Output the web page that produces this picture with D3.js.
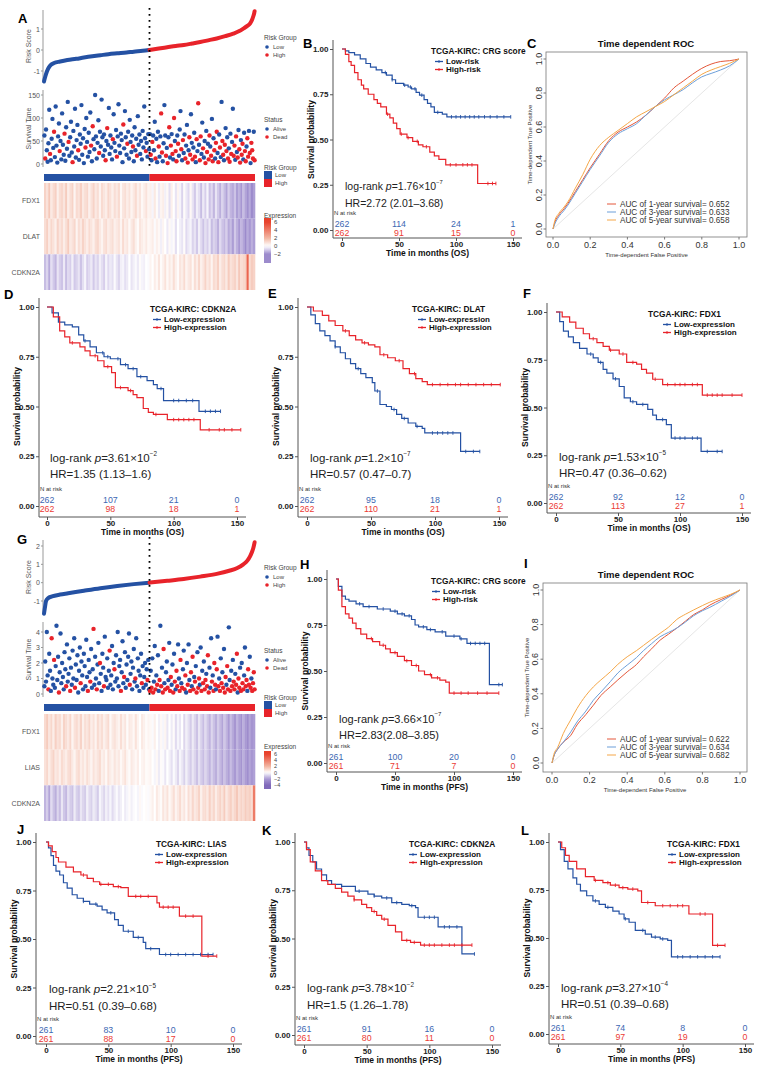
<!DOCTYPE html>
<html><head><meta charset="utf-8">
<script src="https://cdn.jsdelivr.net/npm/d3@7"></script>
<style>body{margin:0;background:#fff}</style>
</head><body>
<svg id="chart" width="764" height="1072" style="font-family:'Liberation Sans',Arial,sans-serif"></svg>
<script>
// ---------------- DATA ----------------
const kmTicksY=[0,0.25,0.5,0.75,1];
const kmTicksX=[0,50,100,150];
const rocTicks=[0,0.2,0.4,0.6,0.8,1];

// Risk score (rank, score)
const riskA_low=[[0,-1.5],[2,-1.35],[5,-1.15],[10,-0.9],[15,-0.75],[25,-0.62],[40,-0.55],[58,-0.48],[80,-0.42],[99,-0.36],[120,-0.3],[140,-0.25],[160,-0.2],[182,-0.16],[205,-0.12],[223,-0.08],[245,-0.04],[261,0]];
const riskA_high=[[262,0],[285,0.07],[306,0.13],[327,0.19],[347,0.24],[368,0.31],[388,0.38],[410,0.47],[429,0.55],[450,0.66],[470,0.78],[485,0.9],[495,1.02],[505,1.15],[512,1.27],[517,1.45],[520,1.62],[522,1.75],[523,1.85]];
const riskG_low=[[0,-1.7],[2,-1.4],[5,-1.0],[10,-0.85],[20,-0.75],[40,-0.65],[60,-0.58],[99,-0.44],[140,-0.3],[182,-0.18],[223,-0.08],[261,0]];
const riskG_high=[[262,0],[306,0.1],[347,0.2],[388,0.33],[429,0.48],[460,0.65],[480,0.8],[495,1.0],[505,1.2],[512,1.45],[517,1.7],[520,1.9],[523,2.2]];

// Survival time scatter [time, dead]
const survA_low=[[62,0],[12,1],[75,0],[30,0],[5,0],[45,0],[118,0],[22,1],[8,0],[55,0],[98,0],[35,0],[70,1],[15,0],[125,0],[40,0],[3,0],[60,0],[88,0],[28,1],[50,0],[10,0],[110,0],[42,0],[20,0],[66,1],[7,0],[80,0],[33,0],[135,0],[48,1],[18,0],[58,0],[92,0],[25,0],[4,1],[72,0],[38,0],[120,0],[14,0],[52,0],[85,0],[30,1],[9,0],[64,0],[44,0],[128,0],[20,0],[56,0],[2,0],[76,0],[36,1],[100,0],[48,0],[16,0],[68,0],[26,0],[112,0],[40,1],[6,0],[82,1],[54,0],[32,0],[150,0],[60,0],[12,0],[46,0],[95,0],[24,1],[70,0],[38,0],[140,0],[58,0],[18,0],[64,0],[30,0],[8,1],[50,0],[78,1],[42,0],[122,0],[22,0],[62,0],[36,0],[10,0],[54,1],[108,0],[46,0],[28,0],[74,0],[16,1],[60,0],[130,0],[40,0],[24,0],[66,0],[52,0],[4,0],[86,1],[34,0],[115,0],[58,0],[20,0],[44,1],[70,0],[12,0],[96,0],[48,0],[26,0],[62,0],[38,1],[6,0],[80,0],[30,0],[55,0],[18,1],[104,0],[42,0],[64,0],[22,0],[50,0],[10,0],[72,0],[36,0],[125,0],[56,0],[28,1],[46,0],[16,0],[65,0],[32,0]];
const survA_high=[[65,0],[20,1],[8,0],[48,1],[62,0],[30,0],[92,0],[12,1],[55,0],[4,0],[70,0],[38,1],[16,0],[60,0],[110,1],[25,1],[6,0],[45,0],[128,0],[62,0],[18,1],[35,0],[2,1],[58,0],[80,1],[14,0],[40,1],[65,0],[22,1],[10,0],[100,1],[50,0],[28,1],[6,1],[62,0],[44,1],[18,0],[75,0],[115,0],[32,1],[8,0],[52,1],[24,0],[64,0],[12,1],[40,0],[85,0],[3,1],[30,0],[58,1],[20,1],[108,0],[46,0],[10,1],[36,0],[68,0],[16,1],[4,0],[54,1],[28,0],[132,1],[42,0],[8,1],[60,1],[22,0],[90,0],[34,1],[14,0],[50,0],[2,1],[72,0],[26,1],[44,0],[10,1],[62,1],[38,0],[18,1],[98,0],[6,1],[56,0],[30,1],[12,0],[46,1],[70,1],[24,0],[4,1],[64,0],[36,1],[15,0],[135,0],[50,1],[20,1],[8,0],[42,1],[78,0],[28,1],[58,0],[12,1],[34,0],[5,1],[66,0],[22,1],[48,0],[120,0],[18,1],[40,1],[9,0],[60,1],[26,0],[14,1],[74,0],[32,1],[3,1],[52,0],[20,1],[44,1],[10,0],[68,0],[28,1],[6,1],[38,0],[56,1],[16,1],[72,0],[24,1],[2,0],[46,1],[30,1],[12,1],[70,0],[8,1]];
const survG_low=[[0.5,0],[2.1,0],[0.8,0],[4.0,0],[1.2,0],[0.3,1],[2.6,0],[1.5,0],[0.2,0],[3.6,1],[1.0,0],[0.6,0],[2.2,1],[0.4,0],[1.8,0],[4.4,0],[0.9,0],[2.4,0],[0.1,1],[1.4,0],[3.9,0],[0.7,0],[2.0,0],[1.1,0],[0.3,0],[2.7,0],[1.6,0],[0.5,1],[3.2,0],[0.8,0],[1.3,0],[2.3,0],[0.2,1],[1.7,0],[0.6,0],[2.8,0],[1.0,0],[3.6,0],[0.4,1],[1.9,0],[0.9,0],[2.5,0],[0.1,0],[1.5,0],[3.0,0],[0.7,1],[2.1,0],[1.2,0],[0.3,0],[2.6,0],[1.8,0],[0.5,0],[3.5,0],[1.1,0],[0.2,1],[2.2,0],[1.4,0],[0.8,1],[2.9,0],[0.4,0],[1.6,0],[4.2,1],[0.6,0],[2.4,0],[1.0,0],[0.3,1],[1.9,0],[3.3,0],[0.7,0],[2.0,1],[1.3,0],[0.2,0],[2.6,0],[1.7,0],[0.5,1],[3.7,0],[1.1,0],[0.9,0],[2.3,0],[0.4,0],[1.5,0],[2.8,1],[0.6,0],[1.2,0],[3.1,0],[0.3,0],[2.0,0],[1.6,1],[0.8,0],[2.5,0],[1.0,0],[4.0,0],[0.5,0],[1.8,0],[2.2,0],[0.2,1],[1.4,0],[3.4,0],[0.7,0],[1.1,1],[2.7,0],[0.4,0],[1.9,0],[0.9,0],[2.4,0],[3.9,0],[0.6,1],[1.3,0],[2.1,0],[0.3,0],[1.7,0],[2.9,0],[0.8,0],[1.0,1],[3.6,0],[0.5,0],[2.3,0],[1.5,0],[0.2,0],[1.2,0],[2.6,0],[0.7,1],[1.8,0],[0.4,0],[1.1,0],[2.0,0],[0.6,0],[1.6,0],[0.9,1],[2.2,0],[0.3,0]];
const survG_high=[[0.2,1],[1.5,0],[0.4,1],[2.3,0],[0.1,1],[0.8,0],[3.1,0],[0.3,1],[1.2,0],[0.6,1],[2.5,0],[0.2,0],[0.9,1],[4.4,0],[0.5,1],[1.7,0],[0.1,1],[2.9,1],[0.7,0],[0.3,1],[1.4,0],[2.1,0],[0.4,1],[0.9,0],[3.3,0],[0.2,1],[1.1,1],[0.6,0],[1.9,0],[0.1,1],[2.6,0],[0.8,1],[0.3,0],[1.5,1],[0.5,1],[3.2,0],[1.0,0],[0.2,1],[2.2,1],[0.7,0],[0.4,1],[1.6,0],[2.8,0],[0.3,1],[1.2,1],[0.1,0],[2.0,0],[0.6,1],[3.2,0],[0.9,0],[0.2,1],[1.4,1],[0.5,0],[2.4,1],[0.3,1],[1.1,0],[0.8,1],[1.8,0],[0.1,1],[2.7,0],[0.4,1],[1.0,1],[0.6,0],[3.0,0],[0.2,1],[1.5,0],[0.7,1],[2.1,0],[0.3,1],[0.9,1],[1.3,0],[0.5,1],[2.5,1],[0.1,1],[1.7,0],[0.4,0],[3.6,0],[0.8,1],[1.2,0],[0.2,1],[2.0,1],[0.6,1],[0.3,0],[1.6,1],[3.7,0],[0.5,1],[1.0,0],[0.2,1],[2.3,0],[0.7,1],[1.4,0],[0.4,1],[2.9,0],[0.1,1],[1.1,1],[0.6,0],[1.8,1],[0.3,1],[4.3,0],[0.9,0],[0.2,1],[1.5,0],[0.5,1],[2.2,0],[0.8,1],[0.3,1],[1.3,0],[0.6,1],[2.6,1],[0.1,0],[1.0,1],[0.4,1],[1.7,0],[0.2,1],[2.0,0],[0.7,1],[0.3,1],[1.2,0],[3.0,0],[0.5,1],[0.9,1],[0.2,0],[1.6,1],[0.6,1],[2.4,0],[0.4,1],[1.0,0],[0.2,1],[0.7,1],[1.4,1],[0.3,1]];

// Heatmap expression (100 columns ordered by risk)
const heatA_genes=['FDX1','DLAT','CDKN2A'];
const heatA_FDX1=[1.2,0.8,1.5,0.6,1.0,1.3,0.4,0.9,1.1,0.7,1.4,0.5,0.9,1.2,0.3,1.0,0.8,1.3,0.6,0.9,1.1,0.4,0.8,1.2,0.6,0.9,0.3,1.0,0.7,0.5,1.1,0.8,0.4,0.9,0.6,1.0,0.2,0.7,0.9,0.5,0.8,0.3,0.6,1.0,0.4,0.7,0.2,0.5,0.8,0.3,0.4,-0.2,0.6,0.1,-0.4,0.3,0.5,-0.3,0.2,-0.6,0.4,0.0,-0.5,0.3,-0.2,-0.8,0.1,-0.4,-0.7,0.2,-0.5,-1.0,-0.3,-0.6,-1.2,-0.4,-0.9,-0.2,-1.1,-0.7,-1.3,-0.5,-1.0,-1.4,-0.8,-1.2,-1.6,-0.9,-1.3,-1.5,-1.1,-1.7,-1.4,-1.8,-1.2,-1.6,-1.9,-1.5,-2.0,-1.7];
const heatA_DLAT=[0.9,1.3,0.6,1.1,0.8,0.4,1.2,0.7,1.0,0.5,0.9,1.4,0.6,0.8,1.1,0.3,0.9,0.6,1.2,0.8,0.5,1.0,0.7,0.4,0.9,1.1,0.6,0.3,0.8,1.0,0.5,0.7,0.9,0.4,0.6,0.8,0.3,1.0,0.5,0.7,0.2,0.6,0.9,0.4,0.1,0.7,0.5,0.3,0.6,0.2,0.3,0.5,-0.1,0.4,0.2,-0.3,0.3,0.0,-0.4,0.2,-0.2,0.1,-0.6,0.0,-0.3,-0.5,0.1,-0.7,-0.4,-0.2,-0.8,-0.5,-1.0,-0.3,-0.7,-1.1,-0.6,-0.9,-0.4,-1.2,-0.8,-1.0,-1.4,-0.7,-1.1,-1.3,-0.9,-1.5,-1.2,-1.7,-1.0,-1.4,-1.8,-1.3,-1.6,-2.0,-1.5,-1.8,-1.4,-1.7];
const heatA_CDKN2A=[-1.2,-0.8,-1.5,-0.6,-1.0,-1.3,-0.5,-0.9,-1.1,-0.4,-1.2,-0.7,-0.9,-0.3,-1.0,-0.8,-0.5,-1.1,-0.6,-0.2,-0.9,-0.7,-0.4,-1.0,-0.5,-0.8,-0.3,-0.6,-0.9,-0.2,-0.7,-0.4,-0.6,-0.1,-0.5,-0.8,-0.3,-0.2,-0.6,-0.4,0.0,-0.5,-0.3,-0.1,-0.4,0.1,-0.2,-0.3,0.0,-0.1,0.3,0.0,0.5,0.2,0.7,0.1,0.4,0.8,0.2,0.6,0.3,0.9,0.4,0.1,0.7,0.5,1.0,0.3,0.6,0.8,0.2,0.9,0.5,1.1,0.4,0.7,1.2,0.6,0.9,0.3,1.0,0.8,1.3,0.5,0.9,1.1,0.6,1.4,0.8,1.0,1.2,0.7,1.5,0.9,1.1,1.3,4.8,1.0,1.4,1.2];
const heatG_genes=['FDX1','LIAS','CDKN2A'];
const heatG_FDX1=[1.0,1.4,0.7,1.1,0.5,1.3,0.8,1.0,0.4,1.2,0.9,0.6,1.1,0.3,0.8,1.0,0.6,1.2,0.4,0.9,0.7,1.1,0.5,0.8,0.3,1.0,0.6,0.9,0.4,0.7,1.0,0.2,0.6,0.8,0.5,0.3,0.9,0.4,0.7,0.1,0.6,0.5,0.2,0.8,0.3,0.0,0.6,0.4,0.1,0.3,0.2,-0.1,0.4,0.0,-0.3,0.2,-0.2,0.3,-0.5,0.0,-0.4,0.1,-0.7,-0.2,-0.5,0.0,-0.8,-0.3,-0.6,-1.0,-0.4,-0.8,-1.2,-0.5,-0.9,-1.3,-0.7,-1.1,-1.5,-0.8,-1.2,-1.6,-1.0,-1.4,-1.8,-1.1,-1.5,-2.0,-1.3,-1.7,-2.2,-1.5,-1.9,-2.4,-1.6,-2.1,-2.6,-1.8,-2.3,-2.0];
const heatG_LIAS=[0.8,1.1,0.5,0.9,1.2,0.6,0.8,0.4,1.0,0.7,0.5,0.9,1.1,0.6,0.3,0.8,1.0,0.5,0.7,0.4,0.9,0.6,0.3,0.8,0.5,0.7,1.0,0.4,0.6,0.2,0.8,0.5,0.3,0.7,0.4,0.6,0.2,0.5,0.8,0.3,0.1,0.6,0.4,0.2,0.5,0.0,0.3,0.4,0.1,0.2,0.3,0.0,-0.2,0.2,-0.4,0.1,-0.1,-0.5,0.0,-0.3,-0.6,-0.1,-0.4,-0.8,-0.2,-0.5,-0.9,-0.3,-0.7,-1.0,-0.5,-0.8,-1.2,-0.6,-1.0,-1.3,-0.8,-1.1,-1.5,-0.9,-1.3,-1.6,-1.0,-1.4,-1.8,-1.2,-1.6,-1.9,-1.3,-1.7,-2.1,-1.5,-1.9,-2.3,-1.6,-2.0,-2.5,-1.8,-2.2,-1.9];
const heatG_CDKN2A=[-1.5,-1.0,-1.8,-0.7,-1.2,-1.6,-0.8,-1.3,-0.5,-1.1,-1.4,-0.6,-1.0,-1.2,-0.4,-0.9,-1.1,-0.5,-0.8,-1.0,-0.3,-0.7,-0.9,-0.4,-0.6,-1.0,-0.2,-0.5,-0.8,-0.3,-0.6,-0.2,-0.7,-0.4,-0.1,-0.5,-0.3,0.0,-0.4,-0.2,0.1,-0.3,-0.1,0.0,-0.2,0.2,-0.1,0.0,0.1,-0.1,0.2,0.4,0.0,0.6,0.3,0.1,0.7,0.4,0.8,0.2,0.5,0.9,0.3,0.6,1.0,0.4,0.7,0.2,0.9,0.5,1.1,0.6,0.8,1.2,0.4,0.9,1.0,0.6,1.3,0.7,1.1,0.5,0.9,1.2,0.8,1.4,0.6,1.0,1.3,0.8,1.1,1.5,0.9,1.2,1.0,1.4,1.1,1.3,0.9,4.0];
const exprTicksA=[6,4,2,0,-2];
const exprTicksG=[6,4,2,0,-2,-4];

// Kaplan-Meier curves [months, survival]
const B_low=[[0,1],[3,0.99],[6,0.98],[11,0.967],[16,0.945],[21,0.92],[25,0.9],[30,0.885],[35,0.87],[39,0.856],[44,0.83],[47,0.81],[54,0.8],[58,0.79],[61,0.78],[65,0.76],[68,0.745],[72,0.72],[75,0.7],[78,0.68],[81,0.65],[88,0.64],[92,0.625],[148,0.625]];
const B_high=[[0,1],[3,0.97],[6,0.93],[8,0.91],[11,0.87],[14,0.83],[17,0.8],[19,0.78],[23,0.75],[28,0.72],[31,0.7],[34,0.68],[39,0.64],[42,0.62],[45,0.59],[48,0.56],[51,0.53],[57,0.51],[62,0.49],[67,0.47],[71,0.46],[77,0.43],[81,0.41],[85,0.39],[91,0.36],[119,0.257],[135,0.257]];
const D_low=[[0,1],[4,0.97],[9,0.924],[14,0.91],[20,0.9],[25,0.86],[29,0.83],[34,0.8],[39,0.77],[45,0.75],[50,0.74],[58,0.71],[64,0.69],[71,0.65],[79,0.63],[84,0.61],[87,0.59],[92,0.53],[120,0.476],[137,0.476]];
const D_high=[[0,1],[5,0.95],[10,0.88],[14,0.85],[18,0.82],[26,0.8],[30,0.78],[34,0.755],[40,0.73],[45,0.7],[51,0.67],[54,0.595],[64,0.58],[68,0.56],[71,0.545],[76,0.49],[80,0.47],[84,0.46],[95,0.434],[121,0.383],[153,0.383]];
const E_low=[[0,1],[3,0.96],[6.5,0.916],[10,0.88],[14,0.856],[18,0.83],[22,0.8],[26,0.77],[30,0.74],[34,0.715],[38,0.69],[42,0.665],[46,0.645],[51,0.62],[53,0.578],[57,0.51],[62,0.5],[66,0.485],[70,0.46],[74,0.44],[79,0.417],[85,0.4],[90,0.39],[92,0.367],[120,0.274],[135,0.274]];
const E_high=[[0,1],[5,0.98],[12,0.958],[17,0.93],[22,0.907],[28,0.88],[33,0.856],[38,0.835],[43,0.82],[48,0.81],[53,0.8],[57,0.76],[63,0.745],[69,0.73],[75,0.69],[80,0.665],[85,0.64],[90,0.625],[94,0.61],[151,0.61]];
const F_low=[[0,1],[3,0.95],[6,0.9],[10,0.87],[14,0.84],[19,0.81],[25,0.78],[30,0.76],[34,0.736],[38,0.7],[41,0.68],[46,0.65],[51,0.61],[55,0.55],[60,0.53],[65,0.516],[74,0.49],[78,0.46],[81,0.437],[89,0.41],[93,0.34],[117,0.27],[134,0.27]];
const F_high=[[0,1],[5,0.975],[11,0.947],[16,0.915],[22,0.886],[27,0.86],[33,0.84],[38,0.82],[43,0.8],[51,0.78],[57,0.736],[65,0.727],[69,0.7],[73,0.68],[78,0.648],[86,0.62],[118,0.565],[150,0.565]];
const H_low=[[0,1],[2,0.96],[5,0.907],[8,0.89],[11,0.88],[17,0.865],[23,0.85],[35,0.837],[46,0.825],[52,0.81],[58,0.8],[64,0.78],[67,0.75],[70,0.74],[77,0.725],[84,0.713],[93,0.69],[105,0.675],[111,0.65],[130,0.426],[141,0.426]];
const H_high=[[0,1],[2,0.94],[5,0.85],[8,0.81],[11,0.787],[14,0.76],[17,0.73],[21,0.7],[26,0.676],[31,0.66],[37,0.64],[42,0.62],[46,0.6],[52,0.58],[58,0.556],[64,0.53],[70,0.5],[75,0.48],[81,0.463],[88,0.45],[93,0.44],[96,0.38],[138,0.38]];
const J_low=[[0,1],[2,0.97],[4,0.93],[6,0.88],[8,0.85],[11,0.83],[14,0.79],[17,0.762],[21,0.728],[25,0.71],[30,0.694],[35,0.68],[41,0.669],[45,0.65],[49,0.635],[55,0.6],[58,0.57],[62,0.54],[70,0.508],[78,0.483],[80,0.45],[91,0.42],[134,0.42]];
const J_high=[[0,1],[2,0.98],[5,0.95],[8,0.92],[10,0.897],[16,0.87],[22,0.846],[28,0.83],[33,0.812],[38,0.795],[43,0.782],[54,0.77],[60,0.765],[66,0.72],[89,0.686],[91,0.664],[107,0.618],[125,0.412],[137,0.412]];
const K_low=[[0,1],[2,0.97],[4,0.93],[7,0.897],[10,0.86],[14,0.83],[18,0.8],[22,0.78],[30,0.77],[41,0.745],[51,0.73],[56,0.72],[62,0.71],[70,0.686],[78,0.677],[84,0.67],[89,0.66],[91,0.61],[107,0.56],[126,0.42],[136,0.42]];
const K_high=[[0,1],[2,0.96],[5,0.897],[9,0.85],[14,0.8],[19,0.78],[25,0.76],[30,0.74],[35,0.72],[40,0.7],[46,0.677],[50,0.66],[54,0.64],[58,0.62],[62,0.6],[67,0.568],[73,0.534],[78,0.49],[85,0.48],[93,0.466],[134,0.466]];
const L_low=[[0,1],[2,0.96],[5,0.899],[8,0.86],[12,0.813],[15,0.78],[18,0.745],[23,0.72],[28,0.693],[33,0.675],[38,0.66],[44,0.64],[49,0.625],[53,0.6],[57,0.582],[62,0.54],[70,0.52],[75,0.505],[82,0.495],[88,0.488],[91,0.402],[130,0.402]];
const L_high=[[0,1],[3,0.97],[6,0.93],[9,0.899],[15,0.86],[22,0.82],[29,0.8],[36,0.788],[42,0.775],[49,0.762],[56,0.755],[64,0.745],[67,0.685],[78,0.668],[105,0.625],[124,0.462],[134,0.462]];

// censoring times
const B_cens=[[38,44,55,60,64,70,84,96,100,104,108,112,116,120,125,130,136,142,148],[40,52,58,66,74,95,100,106,110,114,128,132,135]];
const D_cens=[[30,44,48,56,62,68,74,90,100,104,110,115,125,129,133,137],[20,38,48,58,66,86,100,104,108,112,116,128,136,140,146,153]];
const E_cens=[[22,40,55,68,76,86,98,102,106,110,114,124,130,135],[30,45,60,72,84,98,104,110,116,120,126,132,138,144,151]];
const F_cens=[[28,36,48,62,70,86,96,100,104,110,114,122,130,134],[30,44,54,62,80,90,96,100,104,110,114,122,126,130,134,142,150]];
const H_cens=[[20,28,40,50,56,62,74,80,90,100,106,114,118,122,126,138,141],[30,40,50,60,68,80,86,100,106,112,120,128,138]];
const J_cens=[[30,40,52,66,74,84,96,100,106,112,118,124,130,134],[30,44,50,58,72,76,82,94,98,102,112,118,130,137]];
const K_cens=[[30,44,56,66,74,86,96,100,104,112,116,122,136],[40,56,64,82,88,96,100,104,110,116,120,126,134]];
const L_cens=[[30,40,54,68,78,84,96,100,106,112,118,124,130],[30,40,46,52,60,72,84,90,96,100,114,118,128,134]];

// numbers at risk at 0/50/100/150
const B_risk=[[262,114,24,1],[262,91,15,0]];
const D_risk=[[262,107,21,0],[262,98,18,1]];
const E_risk=[[262,95,18,0],[262,110,21,1]];
const F_risk=[[262,92,12,0],[262,113,27,1]];
const H_risk=[[261,100,20,0],[261,71,7,0]];
const J_risk=[[261,83,10,0],[261,88,17,0]];
const K_risk=[[261,91,16,0],[261,80,11,0]];
const L_risk=[[261,74,8,0],[261,97,19,0]];

// stats [p mantissa, exponent, HR text]
const B_stat=['1.76','−7','HR=2.72 (2.01–3.68)'];
const D_stat=['3.61','−2','HR=1.35 (1.13–1.6)'];
const E_stat=['1.2','−7','HR=0.57 (0.47–0.7)'];
const F_stat=['1.53','−5','HR=0.47 (0.36–0.62)'];
const H_stat=['3.66','−7','HR=2.83(2.08–3.85)'];
const J_stat=['2.21','−5','HR=0.51 (0.39–0.68)'];
const K_stat=['3.78','−2','HR=1.5 (1.26–1.78)'];
const L_stat=['3.27','−4','HR=0.51 (0.39–0.68)'];

// ROC curves [FPR, TPR]
const C_1yr=[[0,0],[0.01,0.04],[0.03,0.08],[0.06,0.12],[0.08,0.15],[0.12,0.22],[0.16,0.29],[0.2,0.36],[0.25,0.44],[0.3,0.52],[0.35,0.57],[0.4,0.6],[0.45,0.63],[0.5,0.67],[0.55,0.72],[0.6,0.77],[0.65,0.83],[0.7,0.87],[0.75,0.91],[0.8,0.945],[0.85,0.97],[0.9,0.985],[0.95,0.99],[1,1]];
const C_3yr=[[0,0],[0.01,0.03],[0.03,0.07],[0.06,0.11],[0.08,0.14],[0.12,0.21],[0.16,0.28],[0.2,0.35],[0.25,0.43],[0.3,0.51],[0.35,0.56],[0.4,0.59],[0.45,0.62],[0.5,0.67],[0.55,0.72],[0.6,0.76],[0.65,0.79],[0.7,0.82],[0.75,0.86],[0.8,0.895],[0.85,0.915],[0.9,0.935],[0.95,0.96],[1,1]];
const C_5yr=[[0,0],[0.01,0.05],[0.03,0.09],[0.06,0.13],[0.08,0.16],[0.12,0.24],[0.16,0.32],[0.2,0.41],[0.25,0.49],[0.3,0.54],[0.35,0.58],[0.4,0.62],[0.45,0.66],[0.5,0.69],[0.55,0.72],[0.6,0.75],[0.65,0.79],[0.7,0.83],[0.75,0.87],[0.8,0.91],[0.85,0.935],[0.9,0.955],[0.95,0.975],[1,1]];
const I_1yr=[[0,0],[0.01,0.04],[0.03,0.08],[0.06,0.12],[0.1,0.16],[0.133,0.22],[0.18,0.28],[0.22,0.334],[0.26,0.39],[0.31,0.44],[0.35,0.48],[0.4,0.527],[0.45,0.57],[0.487,0.614],[0.53,0.66],[0.575,0.71],[0.62,0.745],[0.664,0.78],[0.71,0.82],[0.752,0.857],[0.8,0.885],[0.84,0.913],[0.9,0.945],[0.95,0.97],[1,1]];
const I_3yr=[[0,0],[0.01,0.04],[0.03,0.08],[0.06,0.12],[0.1,0.18],[0.133,0.237],[0.18,0.3],[0.22,0.363],[0.26,0.41],[0.31,0.47],[0.35,0.52],[0.4,0.566],[0.45,0.61],[0.487,0.65],[0.53,0.69],[0.575,0.73],[0.62,0.755],[0.664,0.78],[0.71,0.815],[0.752,0.85],[0.8,0.88],[0.84,0.9],[0.9,0.935],[0.95,0.965],[1,1]];
const I_5yr=[[0,0],[0.01,0.05],[0.03,0.09],[0.06,0.17],[0.1,0.25],[0.133,0.315],[0.18,0.39],[0.22,0.44],[0.26,0.48],[0.31,0.527],[0.35,0.57],[0.4,0.614],[0.45,0.65],[0.487,0.68],[0.53,0.715],[0.575,0.75],[0.62,0.785],[0.664,0.83],[0.71,0.86],[0.752,0.884],[0.8,0.91],[0.84,0.93],[0.9,0.955],[0.95,0.975],[1,1]];
const C_auc=['0.652','0.633','0.658'];
const I_auc=['0.622','0.634','0.682'];
const rocLabels=['1-year','3-year','5-year'];

// ---------------- DRAWING ----------------
const FONT="'Liberation Sans', Arial, sans-serif";
const BLUE='#2451a3', RED='#e8232a', NBLUE='#3d68b3', NRED='#eb3b34';
const svg=d3.select('#chart');

function T(g,x,y,s,o={}){
  const t=g.append('text').attr('x',x).attr('y',y).text(s)
   .attr('font-size',o.size||8).attr('fill',o.fill||'#000')
   .attr('text-anchor',o.anchor||'start').attr('dominant-baseline','central');
  if(o.bold) t.attr('font-weight','bold');
  if(o.rot) t.attr('transform',`rotate(-90,${x},${y})`);
  return t;
}

// panel letters
[['A',18,18],['B',303,43],['C',527,43],['D',4,294],['E',268,293],['F',523,293],['G',17,539],['H',300,564],['I',524,563],['J',17,829],['K',262,830],['L',521,830]]
 .forEach(([l,x,y])=>T(svg,x,y,l,{size:13,bold:true}));

// ---------- risk panels (A & G) ----------
const xR=d3.scaleLinear().domain([0,524]).range([44,255]);
function riskPanel(c){
  const g=svg.append('g');
  const yR=d3.scaleLinear().domain(c.riskDom).range(c.riskRange);
  const yS=d3.scaleLinear().domain(c.survDom).range(c.survRange);
  g.append('line').attr('x1',43).attr('x2',43).attr('y1',c.riskAx[0]).attr('y2',c.riskAx[1]).attr('stroke','#999');
  g.append('line').attr('x1',43).attr('x2',43).attr('y1',c.survAx[0]).attr('y2',c.survAx[1]).attr('stroke','#999');
  c.riskTicks.forEach(v=>{g.append('line').attr('x1',41).attr('x2',43).attr('y1',yR(v)).attr('y2',yR(v)).attr('stroke','#999');
    T(g,40,yR(v),v<0?'-'+Math.abs(v):String(v),{size:7,fill:'#555',anchor:'end'});});
  c.survTicks.forEach(v=>{g.append('line').attr('x1',41).attr('x2',43).attr('y1',yS(v)).attr('y2',yS(v)).attr('stroke','#999');
    T(g,40,yS(v),String(v),{size:7,fill:'#555',anchor:'end'});});
  T(g,28,(c.riskAx[0]+c.riskAx[1])/2,'Risk Score',{size:7,fill:'#555',anchor:'middle',rot:true});
  T(g,28,(c.survAx[0]+c.survAx[1])/2,'Survival Time',{size:7,fill:'#555',anchor:'middle',rot:true});
  const ln=d3.line().x(d=>xR(d[0])).y(d=>yR(d[1])).curve(d3.curveMonotoneX);
  g.append('path').attr('d',ln(c.low)).attr('fill','none').attr('stroke',BLUE).attr('stroke-width',4).attr('stroke-linecap','round');
  g.append('path').attr('d',ln(c.high)).attr('fill','none').attr('stroke',RED).attr('stroke-width',4).attr('stroke-linecap','round');
  const pts=[];
  c.sLow.forEach((d,i)=>pts.push([(i+0.5)*262/c.sLow.length,d[0],d[1]]));
  c.sHigh.forEach((d,i)=>pts.push([262+(i+0.5)*262/c.sHigh.length,d[0],d[1]]));
  g.selectAll(null).data(pts).enter().append('circle')
   .attr('cx',d=>xR(d[0])).attr('cy',d=>yS(d[1])).attr('r',2.2)
   .attr('fill',d=>d[2]?RED:BLUE);
  g.append('line').attr('x1',xR(262)).attr('x2',xR(262)).attr('y1',c.dot[0]).attr('y2',c.dot[1])
   .attr('stroke','#000').attr('stroke-width',1.8).attr('stroke-dasharray','1.8,4.2');
  g.append('rect').attr('x',xR(0)).attr('y',c.bar).attr('width',xR(262)-xR(0)).attr('height',7).attr('fill',BLUE);
  g.append('rect').attr('x',xR(262)).attr('y',c.bar).attr('width',xR(524)-xR(262)).attr('height',7).attr('fill',RED);
  const rows=c.heat, n=rows[0].length, cw=(xR(524)-xR(0))/n, rh=(c.heatY[1]-c.heatY[0])/rows.length;
  rows.forEach((row,ri)=>{
    g.selectAll(null).data(row).enter().append('rect')
     .attr('x',(d,i)=>xR(0)+i*cw).attr('y',c.heatY[0]+ri*rh).attr('width',cw+0.3).attr('height',rh)
     .attr('fill',d=>c.color(d));
    T(g,40,c.heatY[0]+ri*rh+rh/2,c.genes[ri],{size:7,fill:'#555',anchor:'end'});
  });
  const L=264;
  T(g,L,c.leg[0],'Risk Group',{size:6.5,fill:'#444'});
  g.append('circle').attr('cx',L+3).attr('cy',c.leg[0]+10).attr('r',1.8).attr('fill',BLUE);
  T(g,L+9,c.leg[0]+10,'Low',{size:6,fill:'#444'});
  g.append('circle').attr('cx',L+3).attr('cy',c.leg[0]+18).attr('r',1.8).attr('fill',RED);
  T(g,L+9,c.leg[0]+18,'High',{size:6,fill:'#444'});
  T(g,L,c.leg[1],'Status',{size:6.5,fill:'#444'});
  g.append('circle').attr('cx',L+3).attr('cy',c.leg[1]+10).attr('r',1.8).attr('fill',BLUE);
  T(g,L+9,c.leg[1]+10,'Alive',{size:6,fill:'#444'});
  g.append('circle').attr('cx',L+3).attr('cy',c.leg[1]+18).attr('r',1.8).attr('fill',RED);
  T(g,L+9,c.leg[1]+18,'Dead',{size:6,fill:'#444'});
  T(g,L,c.leg[2],'Risk Group',{size:6.5,fill:'#444'});
  g.append('rect').attr('x',L).attr('y',c.leg[2]+4).attr('width',8).attr('height',8).attr('fill',BLUE);
  g.append('rect').attr('x',L).attr('y',c.leg[2]+12).attr('width',8).attr('height',8).attr('fill',RED);
  T(g,L+11,c.leg[2]+8,'Low',{size:6,fill:'#444'});
  T(g,L+11,c.leg[2]+16,'High',{size:6,fill:'#444'});
  T(g,L,c.leg[3],'Expression',{size:6.5,fill:'#444'});
  const yC=d3.scaleLinear().domain(c.cbDom).range(c.cbRange);
  const gid='grad'+c.id;
  const grad=svg.append('defs').append('linearGradient').attr('id',gid).attr('x1',0).attr('x2',0).attr('y1',0).attr('y2',1);
  d3.range(0,1.0001,0.05).forEach(f=>grad.append('stop').attr('offset',f).attr('stop-color',c.color(yC.invert(c.cbBox[0]+f*(c.cbBox[1]-c.cbBox[0])))));
  g.append('rect').attr('x',L).attr('y',c.cbBox[0]).attr('width',7).attr('height',c.cbBox[1]-c.cbBox[0]).attr('fill',`url(#${gid})`);
  c.cbTicks.forEach(v=>T(g,L+10,yC(v),v<0?'−'+Math.abs(v):String(v),{size:c.cbFont,fill:'#444'}));
}

const colorA=d3.scaleLinear().domain([-2,-1,0,2,6]).range(['#9c8bcc','#d2c9e9','#ffffff','#f2b6a2','#e8412c']).clamp(true);
const colorG=d3.scaleLinear().domain([-4,-2,-1,0,2,6]).range(['#8069ba','#ab9bd4','#d4cce9','#ffffff','#f2b6a2','#e8412c']).clamp(true);

riskPanel({id:'A',riskDom:[-1,1],riskRange:[71,29],riskAx:[10,82],riskTicks:[1,0,-1],
  survDom:[0,150],survRange:[164,95],survAx:[90,167],survTicks:[150,100,50,0],
  low:riskA_low,high:riskA_high,sLow:survA_low,sHigh:survA_high,dot:[8,168],bar:174,
  heat:[heatA_FDX1,heatA_DLAT,heatA_CDKN2A],genes:heatA_genes,heatY:[183,290],color:colorA,
  leg:[37,119,167,215],cbDom:[6,-2],cbRange:[222,254],cbBox:[218,263],cbTicks:exprTicksA,cbFont:6});
riskPanel({id:'G',riskDom:[-1,2],riskRange:[601,546],riskAx:[540,614],riskTicks:[2,1,0,-1],
  survDom:[0,4],survRange:[694,632],survAx:[622,697],survTicks:[4,3,2,1,0],
  low:riskG_low,high:riskG_high,sLow:survG_low,sHigh:survG_high,dot:[537,698],bar:704,
  heat:[heatG_FDX1,heatG_LIAS,heatG_CDKN2A],genes:heatG_genes,heatY:[714,821],color:colorG,
  leg:[567,650,697,746],cbDom:[6,-4],cbRange:[754,785],cbBox:[751,789],cbTicks:exprTicksG,cbFont:5.5});

// ---------- KM panels ----------
function stepAt(curve,t){let s=curve[0][1];for(const d of curve){if(d[0]<=t)s=d[1];}return s;}
function kmPanel(c){
  const g=svg.append('g');
  const x=d3.scaleLinear().domain([0,150]).range([c.x0,c.x150]);
  const y=d3.scaleLinear().domain([0,1]).range([c.y0,c.y1]);
  g.append('line').attr('x1',c.axX).attr('x2',c.axX).attr('y1',c.y1-9).attr('y2',c.axY).attr('stroke','#555').attr('stroke-width',1);
  g.append('line').attr('x1',c.axX).attr('x2',x(150)+9).attr('y1',c.axY).attr('y2',c.axY).attr('stroke','#555').attr('stroke-width',1);
  const ya=g.append('g').attr('transform',`translate(${c.axX},0)`)
    .call(d3.axisLeft(y).tickValues(kmTicksY).tickFormat(d3.format('.2f')).tickSize(3).tickPadding(1.5));
  ya.select('.domain').remove();
  ya.attr('font-family',FONT).attr('font-size',8).attr('font-weight','bold');
  ya.selectAll('line').attr('stroke','#555');
  ya.selectAll('text').attr('fill','#222');
  const xa=g.append('g').attr('transform',`translate(0,${c.axY})`)
    .call(d3.axisBottom(x).tickValues(kmTicksX).tickSize(3).tickPadding(0));
  xa.select('.domain').remove();
  xa.attr('font-family',FONT).attr('font-size',8).attr('font-weight','bold');
  xa.selectAll('line').attr('stroke','#555');
  xa.selectAll('text').attr('fill','#222');
  T(g,(c.axX+x(150)+9)/2,c.axY+15,c.xtitle,{size:8.5,bold:true,anchor:'middle',fill:'#111'});
  T(g,c.axX-22,(y(0)+y(1))/2,'Survival probability',{size:8.5,bold:true,anchor:'middle',rot:true,fill:'#111'});
  const ln=d3.line().x(d=>x(d[0])).y(d=>y(d[1])).curve(d3.curveStepAfter);
  [[c.low,BLUE,c.cens[0]],[c.high,RED,c.cens[1]]].forEach(([cv,col,cs])=>{
    g.append('path').attr('d',ln(cv)).attr('fill','none').attr('stroke',col).attr('stroke-width',1.2);
    cs.forEach(t=>g.append('line').attr('x1',x(t)).attr('x2',x(t)).attr('y1',y(stepAt(cv,t))-1.8).attr('y2',y(stepAt(cv,t))+1.8).attr('stroke',col).attr('stroke-width',0.9));
  });
  T(g,c.legX,y(1)+2,c.ltitle,{size:8.3,bold:true,fill:'#111'});
  [[BLUE,c.labels[0],12.5],[RED,c.labels[1],20.5]].forEach(([col,lab,dy])=>{
    g.append('line').attr('x1',c.legX2).attr('x2',c.legX2+8).attr('y1',y(1)+dy).attr('y2',y(1)+dy).attr('stroke',col).attr('stroke-width',1.3);
    g.append('line').attr('x1',c.legX2+4).attr('x2',c.legX2+4).attr('y1',y(1)+dy-1.5).attr('y2',y(1)+dy+1.5).attr('stroke',col).attr('stroke-width',0.9);
    T(g,c.legX2+11,y(1)+dy,lab,{size:8,bold:true,fill:'#111'});
  });
  const fs=c.fs, ly=y(0.25)+1.5;
  const t1=T(g,x(0)+3,ly,'',{size:fs,fill:'#222'});
  t1.append('tspan').text('log-rank ');
  t1.append('tspan').text('p').attr('font-style','italic');
  t1.append('tspan').text('='+c.stat[0]+'×10');
  t1.append('tspan').text(c.stat[1]).attr('font-size',fs*0.55).attr('dy',-fs*0.38);
  T(g,x(0)+3,ly+16.5,c.stat[2],{size:fs,fill:'#222'});
  T(g,c.axX+1,y(0)-17,'N at risk',{size:6,fill:'#333'});
  kmTicksX.forEach((t,i)=>{
    T(g,x(t),y(0)-6,String(c.risk[0][i]),{size:8.8,fill:NBLUE,anchor:'middle'});
    T(g,x(t),y(0)+3,String(c.risk[1][i]),{size:8.8,fill:NRED,anchor:'middle'});
  });
}
const exprLab=['Low-expression','High-expression'], riskLab=['Low-risk','High-risk'];
kmPanel({x0:342,x150:513,y0:230,y1:49,axX:333,axY:238,legX:431,legX2:435,ltitle:'TCGA-KIRC: CRG score',labels:riskLab,low:B_low,high:B_high,cens:B_cens,risk:B_risk,stat:B_stat,xtitle:'Time in months (OS)',fs:10.5});
kmPanel({x0:47,x150:237,y0:506,y1:307,axX:39,axY:517,legX:150,legX2:153,ltitle:'TCGA-KIRC: CDKN2A',labels:exprLab,low:D_low,high:D_high,cens:D_cens,risk:D_risk,stat:D_stat,xtitle:'Time in months (OS)',fs:11.5});
kmPanel({x0:307,x150:499,y0:506,y1:307,axX:298,axY:517,legX:412,legX2:418,ltitle:'TCGA-KIRC: DLAT',labels:exprLab,low:E_low,high:E_high,cens:E_cens,risk:E_risk,stat:E_stat,xtitle:'Time in months (OS)',fs:11.5});
kmPanel({x0:556,x150:742,y0:503,y1:312,axX:547,axY:513,legX:648,legX2:663,ltitle:'TCGA-KIRC: FDX1',labels:exprLab,low:F_low,high:F_high,cens:F_cens,risk:F_risk,stat:F_stat,xtitle:'Time in months (OS)',fs:11.5});
kmPanel({x0:336,x150:513,y0:763,y1:579,axX:327,axY:772,legX:431,legX2:432,ltitle:'TCGA-KIRC: CRG score',labels:riskLab,low:H_low,high:H_high,cens:H_cens,risk:H_risk,stat:H_stat,xtitle:'Time in months (PFS)',fs:11});
kmPanel({x0:46,x150:233,y0:1036,y1:842,axX:36,axY:1044,legX:156,legX2:155,ltitle:'TCGA-KIRC: LIAS',labels:exprLab,low:J_low,high:J_high,cens:J_cens,risk:J_risk,stat:J_stat,xtitle:'Time in months (PFS)',fs:11.5});
kmPanel({x0:304,x150:492,y0:1035,y1:842,axX:295,axY:1045,legX:409,legX2:409,ltitle:'TCGA-KIRC: CDKN2A',labels:exprLab,low:K_low,high:K_high,cens:K_cens,risk:K_risk,stat:K_stat,xtitle:'Time in months (PFS)',fs:11.5});
kmPanel({x0:558,x150:745,y0:1034,y1:842,axX:549,axY:1044,legX:667,legX2:668,ltitle:'TCGA-KIRC: FDX1',labels:exprLab,low:L_low,high:L_high,cens:L_cens,risk:L_risk,stat:L_stat,xtitle:'Time in months (PFS)',fs:11.5});

// ---------- ROC panels ----------
const rocCols=['#e4573a','#6d9fd9','#f5a748'];
function rocPanel(c){
  const g=svg.append('g');
  const x=d3.scaleLinear().domain([0,1]).range([c.x0,c.x1]);
  const y=d3.scaleLinear().domain([0,1]).range([c.y0,c.y1]);
  g.append('rect').attr('x',c.box[0]).attr('y',c.box[1]).attr('width',c.box[2]-c.box[0]).attr('height',c.box[3]-c.box[1]).attr('fill','none').attr('stroke','#777').attr('stroke-width',0.8);
  g.append('line').attr('x1',x(0)).attr('y1',y(0)).attr('x2',x(1)).attr('y2',y(1)).attr('stroke','#e6e6e6').attr('stroke-width',1);
  const ln=d3.line().x(d=>x(d[0])).y(d=>y(d[1])).curve(d3.curveMonotoneX);
  c.curves.forEach((cv,i)=>g.append('path').attr('d',ln(cv)).attr('fill','none').attr('stroke',rocCols[i]).attr('stroke-width',1));
  rocTicks.forEach(v=>{
    g.append('line').attr('x1',x(v)).attr('x2',x(v)).attr('y1',c.box[3]).attr('y2',c.box[3]+2.5).attr('stroke','#777');
    T(g,x(v),c.box[3]+7.5,d3.format('.1f')(v),{size:9,fill:'#333',anchor:'middle'});
    g.append('line').attr('x1',c.box[0]-2.5).attr('x2',c.box[0]).attr('y1',y(v)).attr('y2',y(v)).attr('stroke','#777');
    T(g,c.box[0]-7.5,y(v),d3.format('.1f')(v),{size:9,fill:'#333',anchor:'middle',rot:true});
  });
  T(g,(c.box[0]+c.box[2])/2,c.box[3]+17.5,'Time-dependent False Positive',{size:6,fill:'#333',anchor:'middle'});
  T(g,c.box[0]-16,(c.box[1]+c.box[3])/2,'Time-dependent True Positive',{size:6,fill:'#333',anchor:'middle',rot:true});
  T(g,646,c.box[1]-9,'Time dependent ROC',{size:9.5,bold:true,anchor:'middle',fill:'#111'});
  c.auc.forEach((a,i)=>{
    const yy=c.legY+i*8;
    g.append('line').attr('x1',607).attr('x2',616).attr('y1',yy).attr('y2',yy).attr('stroke',rocCols[i]).attr('stroke-width',1);
    T(g,620,yy,`AUC of ${rocLabels[i]} survival= ${a}`,{size:8.2,fill:'#333'});
  });
}
rocPanel({x0:553,x1:739,y0:229,y1:59,box:[546,52,747,237],curves:[C_1yr,C_3yr,C_5yr],auc:C_auc,legY:204});
rocPanel({x0:552,x1:740,y0:763,y1:590,box:[543,583,747,772],curves:[I_1yr,I_3yr,I_5yr],auc:I_auc,legY:739});
</script>
</body></html>
